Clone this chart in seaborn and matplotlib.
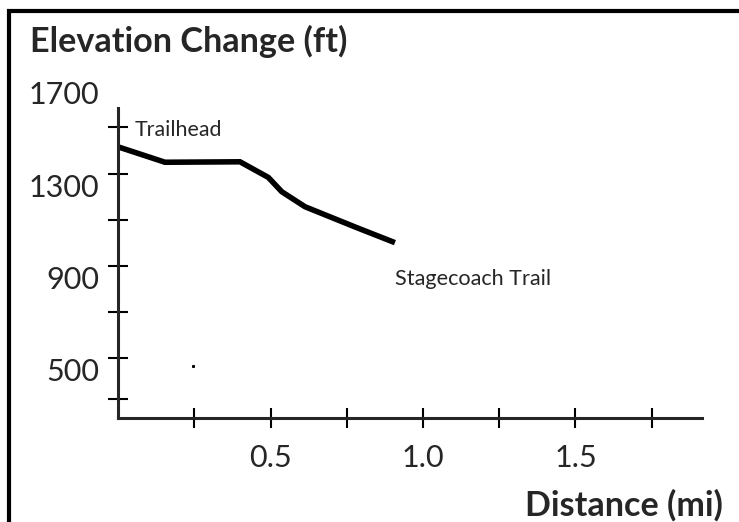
import numpy as np
import pandas as pd
import matplotlib
matplotlib.use('Agg')
import matplotlib.pyplot as plt
import seaborn as sns
from matplotlib.lines import Line2D

# trail profile
distance = [0.0, 0.154, 0.400, 0.493, 0.537, 0.613, 0.783, 0.908]
elevation = [1466, 1399, 1401, 1333, 1271, 1206, 1115, 1050]
stray_point = (0.245, 516)

x_ticks = [0.25, 0.5, 0.75, 1.0, 1.25, 1.5, 1.75]
x_labels = ['', '0.5', '', '1.0', '', '1.5', '']
y_labels = [500, 900, 1300, 1700]
y_marks = [370, 550, 750, 950, 1150, 1350, 1550]

df = pd.DataFrame({'dist': distance, 'elev': elevation})

sns.set_style('white')
plt.rcParams['font.family'] = ['Lato', 'DejaVu Sans']

fig = plt.figure(figsize=(7.39, 5.22), dpi=100)
ax = fig.add_axes([0.1597, 0.1998, 0.7903, 0.6469])

sns.lineplot(data=df, x='dist', y='elev', ax=ax, color='black', linewidth=4,
             solid_joinstyle='miter', solid_capstyle='butt')
ax.plot([stray_point[0]], [stray_point[1]], 's', color='black', markersize=1.2)

ax.set_xlim(0, 1.915)
ax.set_ylim(290, 1756)
for s in ['top', 'right']:
    ax.spines[s].set_visible(False)
ax.spines['left'].set_linewidth(2.2)
ax.spines['bottom'].set_linewidth(2.2)
ax.spines['left'].set_bounds(290, 1634)

ax.set_xticks(x_ticks)
ax.set_xticklabels(x_labels)
ax.tick_params(axis='x', direction='inout', length=14.4, width=1.5, bottom=True,
               labelsize=22, pad=12, color='black')

ax.set_yticks(y_labels)
ax.set_yticklabels([str(v) for v in y_labels])
ax.set_yticks(y_marks, minor=True)
ax.tick_params(axis='y', which='major', length=0, labelsize=22, pad=13.7)
ax.tick_params(axis='y', which='minor', direction='inout', length=14.4,
               width=1.5, left=True, color='black')

ax.set_xlabel('')
ax.set_ylabel('')

ax.text(0.056, 1539, 'Trailhead', fontsize=15.4, va='center', ha='left')
ax.text(0.908, 892, 'Stagecoach Trail', fontsize=15.6, va='center', ha='left')

fig.text(30 / 739, 1 - 52 / 522, 'Elevation Change (ft)', fontsize=24.6,
         fontweight='bold', ha='left', va='baseline')
fig.text(723 / 739, 1 - 516 / 522, 'Distance (mi)', fontsize=24.6,
         fontweight='bold', ha='right', va='baseline')

# frame along the left and top edge
fig.add_artist(Line2D([9.3 / 739, 9.3 / 739, 1.0], [0.0, 1 - 10.8 / 522, 1 - 10.8 / 522],
                      transform=fig.transFigure, color='black', linewidth=3,
                      solid_joinstyle='miter'))

fig.savefig('out.png', dpi=100)
